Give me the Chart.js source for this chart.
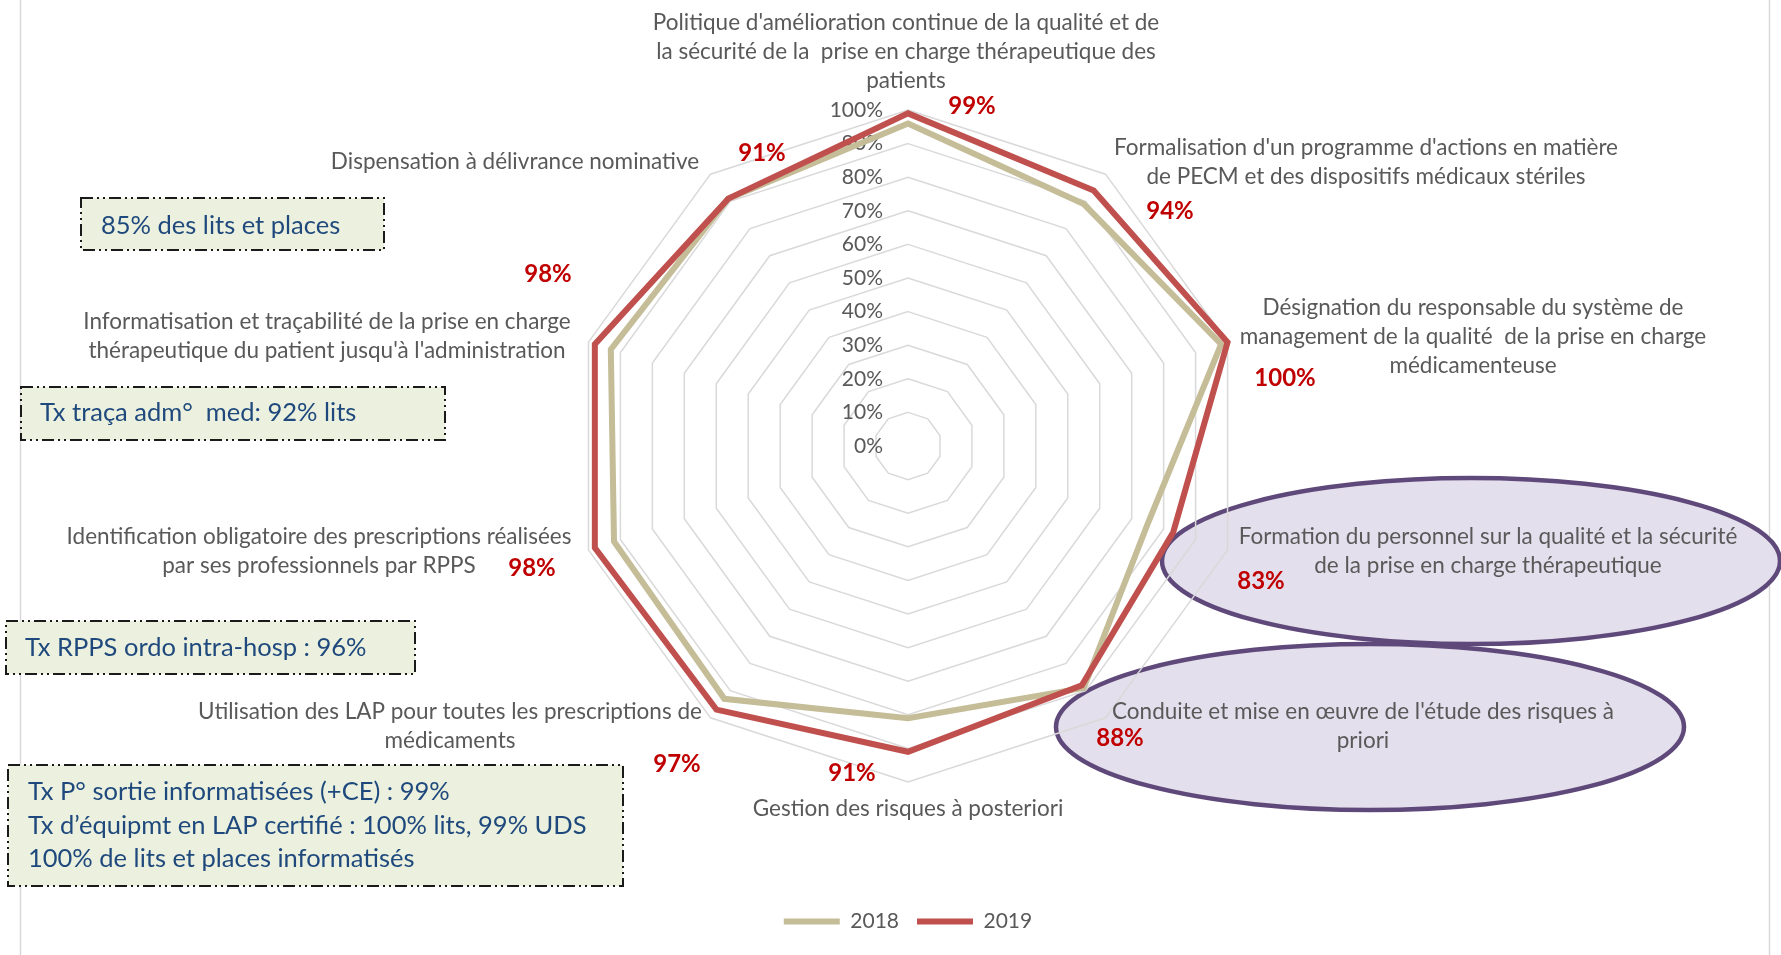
<!DOCTYPE html>
<html lang="fr">
<head>
<meta charset="utf-8">
<title>Radar PECM 2018 / 2019</title>
<script src="https://cdn.jsdelivr.net/npm/chart.js@4.4.1/dist/chart.umd.min.js"></script>
<style>
  html, body { margin: 0; padding: 0; background: #fff; }
  #cadre { position: relative; width: 1781px; height: 955px; }
</style>
</head>
<body>
<div id="cadre"><canvas id="grafica"></canvas></div>
<script>
// --- donnees ---
const categorias = [
  ["Politique d'amélioration continue de la qualité et de", "la sécurité de la  prise en charge thérapeutique des", "patients"],
  ["Formalisation d'un programme d'actions en matière", "de PECM et des dispositifs médicaux stériles"],
  ["Désignation du responsable du système de", "management de la qualité  de la prise en charge", "médicamenteuse"],
  ["Formation du personnel sur la qualité et la sécurité", "de la prise en charge thérapeutique"],
  ["Conduite et mise en œuvre de l'étude des risques à", "priori"],
  ["Gestion des risques à posteriori"],
  ["Utilisation des LAP pour toutes les prescriptions de", "médicaments"],
  ["Identification obligatoire des prescriptions réalisées", "par ses professionnels par RPPS"],
  ["Informatisation et traçabilité de la prise en charge", "thérapeutique du patient jusqu'à l'administration"],
  ["Dispensation à délivrance nominative"]
];
const annees = ["2018", "2019"];
const valeurs2018 = [96, 89, 98, 75, 89, 81, 93, 92, 93, 91];
const valeurs2019 = [99, 94, 100, 83, 88, 91, 97, 98, 98, 91];
const echelleMin = 0;
const echelleMax = 100;
const echellePas = 10;
const encadres = [
  ["85% des lits et places"],
  ["Tx traça adm°  med: 92% lits"],
  ["Tx RPPS ordo intra-hosp : 96%"],
  ["Tx P° sortie informatisées (+CE) : 99%", "Tx d’équipmt en LAP certifié : 100% lits, 99% UDS", "100% de lits et places informatisés"]
];

// --- mise en page (px, relatif au centre du radar pour les etiquettes) ---
const police = 'Lato, "Open Sans", sans-serif';
const couleurs = ["#c4bd97", "#c0504d"];
const posCategories = [[-2, -423], [458, -298], [565, -138], [580, 91], [455, 266], [0, 363], [-458, 266], [-589, 91], [-581, -124], [-393, -284]];
const posValeurs = [[64, -340], [262, -235], [377, -68], [353, 135], [212, 292], [-56, 327], [-231, 318], [-376, 122], [-360, -172], [-146, -293]];
const cadres = [
  { x: 81, y: 198, w: 303, h: 52, tx: 101, ty: 226 },
  { x: 21, y: 387, w: 424, h: 53, tx: 40, ty: 413 },
  { x: 6, y: 621, w: 409, h: 53, tx: 25, ty: 648 },
  { x: 8, y: 765, w: 615, h: 121, tx: 28, ty: 792 }
];
const ellipses = [
  { cx: 1471, cy: 561, rx: 309, ry: 83 },
  { cx: 1370, cy: 727, rx: 314, ry: 83 }
];

const decor = {
  id: "decor",
  beforeDraw(chart) {
    const ctx = chart.ctx;
    ctx.save();
    ctx.fillStyle = "#ffffff";
    ctx.fillRect(0, 0, chart.width, chart.height);
    ctx.strokeStyle = "#d9d9d9";
    ctx.lineWidth = 1.5;
    [20.5, 1769.5].forEach((x) => {
      ctx.beginPath();
      ctx.moveTo(x, 0);
      ctx.lineTo(x, chart.height);
      ctx.stroke();
    });
    ellipses.forEach((e) => {
      ctx.beginPath();
      ctx.ellipse(e.cx, e.cy, e.rx, e.ry, 0, 0, Math.PI * 2);
      ctx.fillStyle = "#e4dfec";
      ctx.fill();
      ctx.lineWidth = 4.5;
      ctx.strokeStyle = "#5f497a";
      ctx.stroke();
    });
    ctx.restore();
  },
  beforeDatasetsDraw(chart) {
    const ctx = chart.ctx;
    const s = chart.scales.r;
    ctx.save();
    ctx.font = "21px " + police;
    ctx.fillStyle = "#595959";
    ctx.textAlign = "right";
    ctx.textBaseline = "middle";
    s.ticks.forEach((t) => {
      const y = s.yCenter - s.getDistanceFromCenterForValue(t.value);
      ctx.fillText(t.label, s.xCenter - 25, y);
    });
    ctx.restore();
  },
  afterDraw(chart) {
    const ctx = chart.ctx;
    const s = chart.scales.r;
    ctx.save();
    ctx.textAlign = "center";
    ctx.textBaseline = "middle";
    // libelles des axes
    ctx.font = "22.5px " + police;
    ctx.fillStyle = "#595959";
    chart.data.labels.forEach((lignes, i) => {
      const [dx, dy] = posCategories[i];
      lignes.forEach((txt, k) => {
        ctx.fillText(txt, s.xCenter + dx, s.yCenter + dy + k * 29);
      });
    });
    // etiquettes 2019
    ctx.font = "bold 24px " + police;
    ctx.fillStyle = "#c00000";
    chart.data.datasets[1].data.forEach((v, i) => {
      const [dx, dy] = posValeurs[i];
      ctx.fillText(v + "%", s.xCenter + dx, s.yCenter + dy);
    });
    // encadres
    cadres.forEach((c, i) => {
      ctx.fillStyle = "#ebf1de";
      ctx.fillRect(c.x, c.y, c.w, c.h);
      ctx.setLineDash([12, 4, 2, 4, 2, 4]);
      ctx.lineWidth = 2;
      ctx.strokeStyle = "#1a1a1a";
      ctx.strokeRect(c.x, c.y, c.w, c.h);
      ctx.setLineDash([]);
      ctx.font = "25.5px " + police;
      ctx.fillStyle = "#1f497d";
      ctx.textAlign = "left";
      encadres[i].forEach((txt, k) => {
        ctx.fillText(txt, c.tx, c.ty + k * 33.5);
      });
    });
    ctx.restore();
  }
};

function graficaRadar() {
  const cxt = document.getElementById("grafica");
  const myChart = new Chart(cxt, {
    type: "radar",
    data: {
      labels: categorias,
      datasets: [
        {
          label: annees[0],
          data: valeurs2018,
          borderColor: couleurs[0],
          backgroundColor: couleurs[0],
          borderWidth: 6,
          borderCapStyle: "round",
          borderJoinStyle: "miter",
          fill: false,
          pointRadius: 0,
          pointHoverRadius: 0,
          order: 1,
        },
        {
          label: annees[1],
          data: valeurs2019,
          borderColor: couleurs[1],
          backgroundColor: couleurs[1],
          borderWidth: 6,
          borderCapStyle: "round",
          borderJoinStyle: "miter",
          fill: false,
          pointRadius: 0,
          pointHoverRadius: 0,
          order: 0,
        },
      ],
    },
    options: {
      responsive: true,
      maintainAspectRatio: false,
      animation: false,
      layout: { padding: { top: 110, bottom: 13, left: 35, right: 0 } },
      scales: {
        r: {
          min: echelleMin,
          max: echelleMax,
          ticks: { stepSize: echellePas, display: false, callback: (v) => v + "%" },
          grid: { color: "#d9d9d9", lineWidth: 1.5 },
          angleLines: { display: false },
          pointLabels: { display: false },
        },
      },
      plugins: {
        legend: {
          position: "bottom",
          title: { display: true, text: "", padding: { top: 96.1, bottom: 0 } },
          labels: {
            usePointStyle: true,
            pointStyle: "line",
            pointStyleWidth: 56,
            padding: 18,
            color: "#595959",
            font: { family: police, size: 21 },
            sort: (a, b) => a.datasetIndex - b.datasetIndex,
          },
        },
        tooltip: { enabled: false },
      },
    },
    plugins: [decor],
  });
}

graficaRadar();
</script>
</body>
</html>
